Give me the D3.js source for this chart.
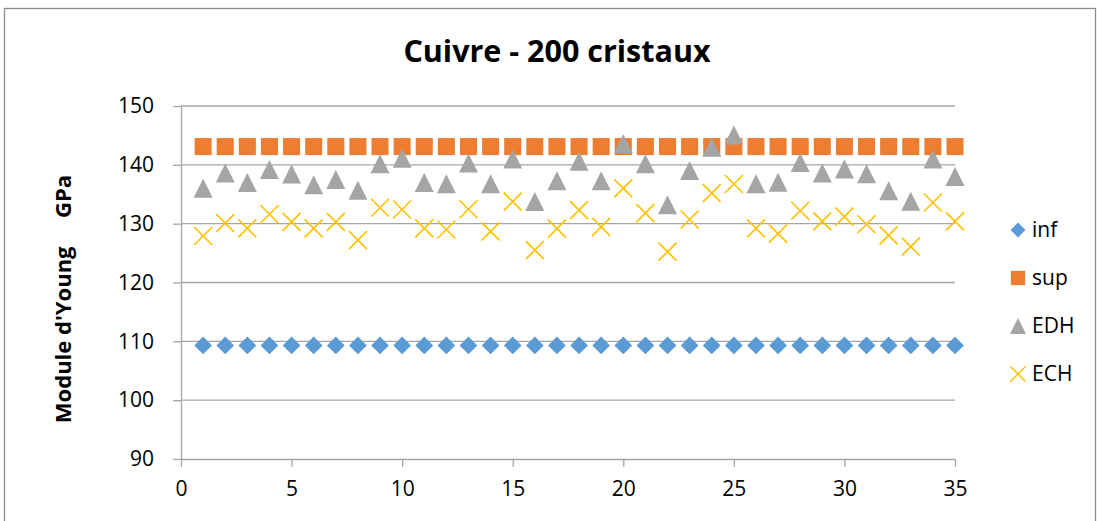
<!DOCTYPE html>
<html>
<head>
<meta charset="utf-8">
<script src="https://d3js.org/d3.v7.min.js"></script>
<style>
  body { margin: 0; background: #fff; }
  text { font-family: "Open Sans", sans-serif; fill: #000; }
  .grid line { stroke: #a6a6a6; stroke-width: 1.3; }
  .axis path, .axis line { stroke: #a6a6a6; stroke-width: 1.3; }
</style>
</head>
<body>
<script>
// data
var xValues = [1,2,3,4,5,6,7,8,9,10,11,12,13,14,15,16,17,18,19,20,
               21,22,23,24,25,26,27,28,29,30,31,32,33,34,35];
var infValues = [109.3,109.3,109.3,109.3,109.3,109.3,109.3,109.3,109.3,109.3,
                 109.3,109.3,109.3,109.3,109.3,109.3,109.3,109.3,109.3,109.3,
                 109.3,109.3,109.3,109.3,109.3,109.3,109.3,109.3,109.3,109.3,
                 109.3,109.3,109.3,109.3,109.3];
var supValues = [143.1,143.1,143.1,143.1,143.1,143.1,143.1,143.1,143.1,143.1,
                 143.1,143.1,143.1,143.1,143.1,143.1,143.1,143.1,143.1,143.1,
                 143.1,143.1,143.1,143.1,143.1,143.1,143.1,143.1,143.1,143.1,
                 143.1,143.1,143.1,143.1,143.1];
var edhValues = [136.0,138.6,137.0,139.2,138.45,136.6,137.5,135.7,140.2,141.1,
                 137.0,136.8,140.3,136.8,141.0,133.75,137.3,140.6,137.3,143.6,
                 140.2,133.2,139.05,143.0,145.06,136.8,137.06,140.4,138.6,139.3,
                 138.5,135.6,133.8,141.0,138.0];
var echValues = [127.9,130.1,129.2,131.6,130.3,129.2,130.3,127.2,132.7,132.4,
                 129.2,129.0,132.45,128.7,133.75,125.5,129.15,132.3,129.45,136.0,
                 131.8,125.25,130.7,135.2,136.75,129.2,128.3,132.2,130.4,131.2,
                 129.9,128.0,126.1,133.6,130.4];
var xTicks = [0,5,10,15,20,25,30,35];
var yTicks = [90,100,110,120,130,140,150];
var seriesNames = ["inf","sup","EDH","ECH"];
var seriesColors = ["#5b9bd5","#ed7d31","#a5a5a5","#ffc000"];

// set the dimensions and margins of the graph
var margin = {top: 106, right: 142, bottom: 62, left: 181},
    width = 955 - margin.left,
    height = 459 - margin.top;

var svg = d3.select("body").append("svg")
    .attr("width", 1097)
    .attr("height", 521);

// outer chart border
svg.append("rect")
    .attr("x", 4.5).attr("y", 8.5)
    .attr("width", 1091).attr("height", 530)
    .attr("fill", "none")
    .attr("stroke", "#8c8c8c")
    .attr("stroke-width", 1.3);

// title
svg.append("text")
    .attr("x", 557)
    .attr("y", 62)
    .attr("text-anchor", "middle")
    .style("font-size", "30.5px")
    .style("font-weight", "bold")
    .text("Cuivre - 200 cristaux");

var g = svg.append("g")
    .attr("transform", "translate(" + margin.left + "," + margin.top + ")");

// set the ranges
var x = d3.scaleLinear().domain([0, 35]).range([0, width]);
var y = d3.scaleLinear().domain([90, 150]).range([height, 0]);

// horizontal gridlines
g.append("g")
    .attr("class", "grid")
  .selectAll("line")
    .data(yTicks.filter(function(d) { return d > 90; }))
  .enter().append("line")
    .attr("x1", 0).attr("x2", width)
    .attr("y1", function(d) { return y(d); })
    .attr("y2", function(d) { return y(d); });

// x axis
var xAxis = g.append("g")
    .attr("class", "axis")
    .attr("transform", "translate(0," + height + ")")
    .call(d3.axisBottom(x).tickValues(xTicks).tickSize(8).tickSizeOuter(0).tickPadding(14));
xAxis.selectAll("text").style("font-size", "21px").attr("fill", "#000");

// y axis
var yAxis = g.append("g")
    .attr("class", "axis")
    .call(d3.axisLeft(y).tickValues(yTicks).tickSize(8).tickSizeOuter(0).tickPadding(19));
yAxis.selectAll("text").style("font-size", "21px").attr("fill", "#000");
g.selectAll(".axis .domain").attr("stroke", "#a6a6a6");

// y axis label
svg.append("text")
    .attr("transform", "translate(71,299) rotate(-90)")
    .attr("text-anchor", "middle")
    .style("font-size", "22px")
    .style("font-weight", "bold")
    .style("white-space", "pre")
    .text("Module d'Young     GPa");

// marker shapes
var diamond = d3.symbol().type(d3.symbolDiamond2).size(200)();
var square = d3.symbol().type(d3.symbolSquare2).size(370)();

function triangle(s) {
  var h = s;
  return "M0," + (-h / 2) + "L" + (s / 2) + "," + (h / 2) + "L" + (-s / 2) + "," + (h / 2) + "Z";
}
function cross(s) {
  var r = s / 2;
  return "M" + (-r) + "," + (-r) + "L" + r + "," + r + "M" + (-r) + "," + r + "L" + r + "," + (-r);
}

var series = [infValues, supValues, edhValues, echValues];

series.forEach(function(vals, i) {
  var pts = g.append("g").selectAll("path")
      .data(vals)
    .enter().append("path")
      .attr("transform", function(d, j) { return "translate(" + x(xValues[j]) + "," + y(d) + ")"; });
  if (i === 0) pts.attr("d", diamond).attr("fill", seriesColors[i]);
  if (i === 1) pts.attr("d", square).attr("fill", seriesColors[i]);
  if (i === 2) pts.attr("d", triangle(19)).attr("fill", seriesColors[i]);
  if (i === 3) pts.attr("d", cross(18)).attr("fill", "none")
      .attr("stroke", seriesColors[i]).attr("stroke-width", 1.6);
});

// legend
var legend = svg.append("g")
    .attr("transform", "translate(1018,230)");

var items = legend.selectAll("g")
    .data(seriesNames)
  .enter().append("g")
    .attr("transform", function(d, i) { return "translate(0," + (i * 48) + ")"; });

items.append("path")
    .attr("d", function(d, i) {
      if (i === 0) return d3.symbol().type(d3.symbolDiamond2).size(140)();
      if (i === 1) return d3.symbol().type(d3.symbolSquare2).size(260)();
      if (i === 2) return triangle(16);
      return cross(15);
    })
    .attr("fill", function(d, i) { return i === 3 ? "none" : seriesColors[i]; })
    .attr("stroke", function(d, i) { return i === 3 ? seriesColors[i] : null; })
    .attr("stroke-width", 1.5);

items.append("text")
    .attr("x", 14)
    .attr("dy", "0.35em")
    .style("font-size", "21px")
    .text(function(d) { return d; });
</script>
</body>
</html>
